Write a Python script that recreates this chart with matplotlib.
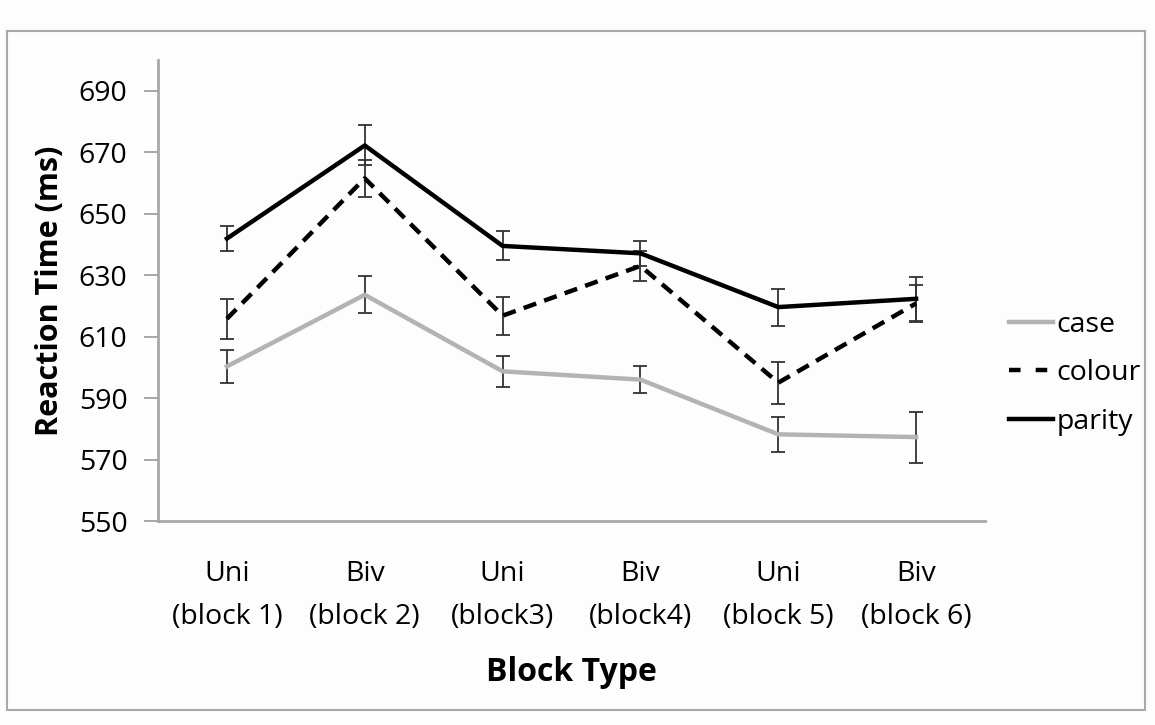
import matplotlib
matplotlib.use("Agg")
import matplotlib.pyplot as plt
from matplotlib.patches import Rectangle
from matplotlib.lines import Line2D

plt.rcParams['font.family'] = ['Open Sans', 'DejaVu Sans']

categories = ["Uni\n(block 1)", "Biv\n(block 2)", "Uni\n(block3)", "Biv\n(block4)", "Uni\n(block 5)", "Biv\n(block 6)"]
case_vals = [600.3, 623.6, 598.7, 596.0, 578.2, 577.3]
case_err = [5.5, 6.0, 5.0, 4.3, 5.6, 8.3]
colour_vals = [615.8, 661.5, 616.8, 633.0, 595.0, 620.8]
colour_err = [6.5, 6.0, 6.2, 5.0, 6.8, 6.0]
parity_vals = [641.9, 672.2, 639.5, 637.1, 619.6, 622.3]
parity_err = [4.0, 6.5, 4.7, 4.0, 6.0, 7.2]
yticks = [550, 570, 590, 610, 630, 650, 670, 690]

fig = plt.figure(figsize=(11.55, 7.25), dpi=100)
fig.patch.set_facecolor('#fdfdfd')
fig.patches.append(Rectangle((7/1155, 1 - 710/725), (1145 - 7)/1155, (710 - 31)/725,
                             transform=fig.transFigure, fill=False,
                             edgecolor='#a8a8a8', linewidth=1.5, zorder=0))

ax = fig.add_axes([158/1155, 1 - 521/725, (985 - 158)/1155, (521 - 60)/725])
ax.set_facecolor('#fdfdfd')
x = list(range(len(categories)))

series = [
    ("case", case_vals, case_err, dict(color='#b3b3b3', linestyle='-')),
    ("colour", colour_vals, colour_err, dict(color='#000000', linestyle=(0, (3, 1.9)))),
    ("parity", parity_vals, parity_err, dict(color='#000000', linestyle='-')),
]
handles = []
for name, vals, err, st in series:
    ax.errorbar(x, vals, yerr=err, linewidth=3.2, ecolor='#333333',
                elinewidth=1.3, capsize=5, capthick=1.3, **st)
    hst = dict(st)
    if name == "colour":
        hst['linestyle'] = (0, (2.6, 3.4))
    handles.append(Line2D([], [], linewidth=3.2, label=name, **hst))

ax.set_xlim(-0.5, len(categories) - 0.5)
ax.set_ylim(550, 700)
ax.set_yticks(yticks)
ax.set_xticks(x)
ax.set_xticklabels(categories, fontsize=20.5, linespacing=1.7)
ax.tick_params(axis='x', length=0, pad=28)
ax.tick_params(axis='y', length=10, width=1.3, color='#a0a0a0', labelsize=20.5, pad=12)
for s in ['top', 'right']:
    ax.spines[s].set_visible(False)
for s in ['left', 'bottom']:
    ax.spines[s].set_color('#a8a8a8')
    ax.spines[s].set_linewidth(2)

ax.set_ylabel("Reaction Time (ms)", fontsize=22, fontweight='bold', labelpad=10)
ax.set_xlabel("Block Type", fontsize=23, fontweight='bold', labelpad=18)

fig.legend(handles=handles, loc='center left', bbox_to_anchor=(1009/1155, 1 - 373/725),
           bbox_transform=fig.transFigure, frameon=False, fontsize=20.5,
           handlelength=1.55, handletextpad=0.12, labelspacing=0.72,
           borderaxespad=0, borderpad=0)

fig.savefig("out.png", dpi=100, facecolor=fig.get_facecolor())
